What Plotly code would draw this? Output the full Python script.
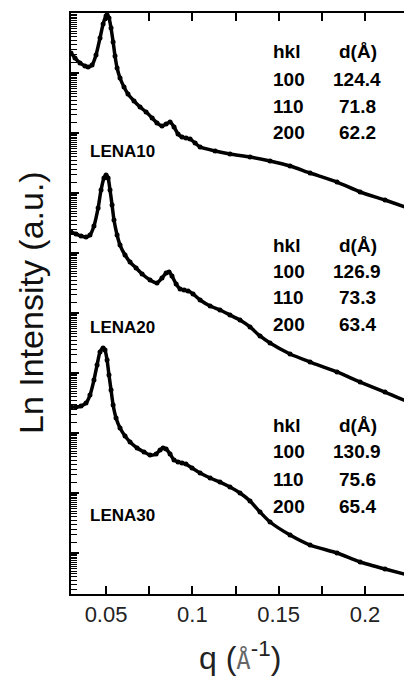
import numpy as np
import plotly.graph_objects as go

# ---- data (q in 1/Angstrom, log10 of intensity, arbitrary units) ----
q_lena10 = [0.0297, 0.0320, 0.0349, 0.0378, 0.0396, 0.0419, 0.0442, 0.0465, 0.0483, 0.0500,
            0.0506, 0.0517, 0.0529, 0.0541, 0.0552, 0.0564, 0.0581, 0.0604, 0.0627, 0.0662,
            0.0697, 0.0732, 0.0767, 0.0795, 0.0824, 0.0848, 0.0871, 0.0894, 0.0917, 0.0940,
            0.0963, 0.0987, 0.1016, 0.1045, 0.1132, 0.1218, 0.1334, 0.1450, 0.1566, 0.1682,
            0.1838, 0.1972, 0.2116, 0.2250]
logI_lena10 = [9.333, 9.250, 9.167, 9.117, 9.100, 9.133, 9.300, 9.583, 9.817, 9.950,
               9.967, 9.917, 9.750, 9.517, 9.283, 9.083, 8.917, 8.767, 8.650, 8.533,
               8.433, 8.350, 8.250, 8.167, 8.117, 8.150, 8.183, 8.100, 7.983, 7.933,
               7.917, 7.900, 7.833, 7.767, 7.700, 7.650, 7.600, 7.533, 7.450, 7.333,
               7.183, 7.017, 6.883, 6.750]

q_lena20 = [0.0297, 0.0326, 0.0355, 0.0384, 0.0407, 0.0430, 0.0454, 0.0471, 0.0488, 0.0500,
            0.0512, 0.0523, 0.0535, 0.0546, 0.0564, 0.0581, 0.0610, 0.0639, 0.0674, 0.0709,
            0.0755, 0.0795, 0.0824, 0.0848, 0.0865, 0.0882, 0.0906, 0.0929, 0.0952, 0.0975,
            0.1004, 0.1045, 0.1103, 0.1160, 0.1218, 0.1276, 0.1334, 0.1392, 0.1450, 0.1566,
            0.1682, 0.1838, 0.1972, 0.2116, 0.2250]
logI_lena20 = [6.350, 6.317, 6.283, 6.267, 6.300, 6.450, 6.750, 7.050, 7.250, 7.300,
               7.250, 7.050, 6.800, 6.550, 6.300, 6.133, 5.967, 5.850, 5.750, 5.650,
               5.550, 5.500, 5.583, 5.667, 5.683, 5.617, 5.483, 5.400, 5.383, 5.367,
               5.317, 5.217, 5.117, 5.050, 4.967, 4.883, 4.767, 4.617, 4.500, 4.317,
               4.183, 4.017, 3.850, 3.683, 3.517]

q_lena30 = [0.0297, 0.0326, 0.0355, 0.0384, 0.0407, 0.0430, 0.0448, 0.0465, 0.0483, 0.0494,
            0.0506, 0.0517, 0.0529, 0.0541, 0.0558, 0.0581, 0.0610, 0.0639, 0.0680, 0.0720,
            0.0755, 0.0790, 0.0813, 0.0830, 0.0848, 0.0871, 0.0894, 0.0917, 0.0940, 0.0963,
            0.0998, 0.1045, 0.1103, 0.1160, 0.1218, 0.1276, 0.1334, 0.1392, 0.1450, 0.1566,
            0.1682, 0.1838, 0.1972, 0.2116, 0.2250]
logI_lena30 = [3.433, 3.433, 3.450, 3.500, 3.633, 3.883, 4.133, 4.350, 4.417, 4.383,
               4.217, 3.967, 3.717, 3.467, 3.250, 3.083, 2.950, 2.850, 2.750, 2.683,
               2.633, 2.650, 2.717, 2.750, 2.733, 2.650, 2.550, 2.517, 2.500, 2.483,
               2.417, 2.333, 2.250, 2.183, 2.100, 2.000, 1.867, 1.683, 1.517, 1.300,
               1.133, 1.000, 0.850, 0.733, 0.633]

sample_names = ["LENA10", "LENA20", "LENA30"]
hkl = ["100", "110", "200"]
d_lena10 = ["124.4", "71.8", "62.2"]
d_lena20 = ["126.9", "73.3", "63.4"]
d_lena30 = ["130.9", "75.6", "65.4"]

x_ticks = [0.05, 0.1, 0.15, 0.2]
x_tick_labels = ["0.05", "0.1", "0.15", "0.2"]

# ---- figure (page body adds an 8 px offset, so the figure is 8 px smaller) ----
OFF = 8
W, H = 412 - OFF, 677 - OFF
L, R, T, B = 71 - OFF, 3, 13 - OFF, 83
pw, ph = W - L - R, H - T - B   # 338 x 581 -> screen plot area x 71..409, y 13..594

def px(x):
    return (x - 71) / pw

def py(y):
    return (594 - y) / ph

fig = go.Figure()
for q, li in [(q_lena10, logI_lena10), (q_lena20, logI_lena20), (q_lena30, logI_lena30)]:
    fig.add_trace(go.Scatter(
        x=q, y=10 ** np.array(li), mode="lines+markers",
        line=dict(color="black", width=3.5, shape="spline", smoothing=0.6),
        marker=dict(color="black", size=5),
        showlegend=False, hoverinfo="skip", cliponaxis=True))

font_main = "Liberation Sans, Arial, sans-serif"

# dense minor ticks on the log axis (as in the reference)
minor_y = [m * 10.0 ** d for d in range(0, 11) for m in np.arange(1.5, 10.0, 0.5)]

fig.update_layout(
    width=W, height=H,
    margin=dict(l=L, r=R, t=T, b=B, autoexpand=False),
    paper_bgcolor="white", plot_bgcolor="white",
    font=dict(family=font_main, color="black"),
    xaxis=dict(
        range=[0.0297, 0.2255], tickvals=x_ticks, ticktext=x_tick_labels,
        ticks="inside", ticklen=8, tickwidth=2, tickcolor="black",
        minor=dict(tickvals=[0.075, 0.125, 0.175, 0.225], ticks="inside",
                   ticklen=8, tickwidth=2, tickcolor="black"),
        showline=True, linecolor="black", linewidth=2, mirror="ticks",
        showgrid=False, zeroline=False,
        tickfont=dict(size=22, color="#222", family=font_main),
    ),
    yaxis=dict(
        type="log", range=[0.317, 10.0],
        ticks="inside", ticklen=8, tickwidth=1.5, tickcolor="black",
        dtick=1,
        minor=dict(tickvals=minor_y, ticks="inside", ticklen=6, tickwidth=1.3,
                   tickcolor="black"),
        showticklabels=False,
        showline=True, linecolor="black", linewidth=2,
        showgrid=False, zeroline=False,
    ),
)

# dotted right frame
fig.add_shape(type="line", xref="paper", yref="paper", x0=1, x1=1, y0=0, y1=1,
              line=dict(color="#555", width=1.5, dash="dot"))

ann = []
# axis titles
ann.append(dict(text="Ln Intensity (a.u.)", x=px(31), y=py(303), xref="paper", yref="paper",
                textangle=-90, showarrow=False, font=dict(size=34, family=font_main, color="#111"),
                xanchor="center", yanchor="middle"))
ann.append(dict(text="q (<span style='font-family:DejaVu Sans Mono;color:#666;font-size:24px'>Å</span><sup>-1</sup>)",
                x=px(240), y=py(656), xref="paper", yref="paper", showarrow=False,
                font=dict(size=32, family=font_main, color="#222"), xanchor="center", yanchor="middle"))

tables = [d_lena10, d_lena20, d_lena30]
row_y = [[52, 79, 106, 133], [245, 271, 297, 324], [425, 452, 479, 506]]
label_y = [151, 327, 515]
tf = dict(size=19, family=font_main, color="black")
for k in range(3):
    ys = row_y[k]
    ann.append(dict(text="<b>hkl</b>", x=px(271), y=py(ys[0]), xref="paper", yref="paper",
                    showarrow=False, xanchor="left", yanchor="middle", font=tf))
    ann.append(dict(text="<b>d(Å)</b>", x=px(358), y=py(ys[0]), xref="paper", yref="paper",
                    showarrow=False, xanchor="center", yanchor="middle", font=tf))
    for i in range(3):
        ann.append(dict(text="<b>%s</b>" % hkl[i], x=px(271), y=py(ys[i + 1]), xref="paper",
                        yref="paper", showarrow=False, xanchor="left", yanchor="middle", font=tf))
        ann.append(dict(text="<b>%s</b>" % tables[k][i], x=px(357), y=py(ys[i + 1]), xref="paper",
                        yref="paper", showarrow=False, xanchor="center", yanchor="middle", font=tf))
    ann.append(dict(text="<b>%s</b>" % sample_names[k], x=px(88), y=py(label_y[k]), xref="paper",
                    yref="paper", showarrow=False, xanchor="left", yanchor="middle",
                    font=dict(size=17, family=font_main, color="black")))

fig.update_layout(annotations=ann)
fig.write_html("out.html")
